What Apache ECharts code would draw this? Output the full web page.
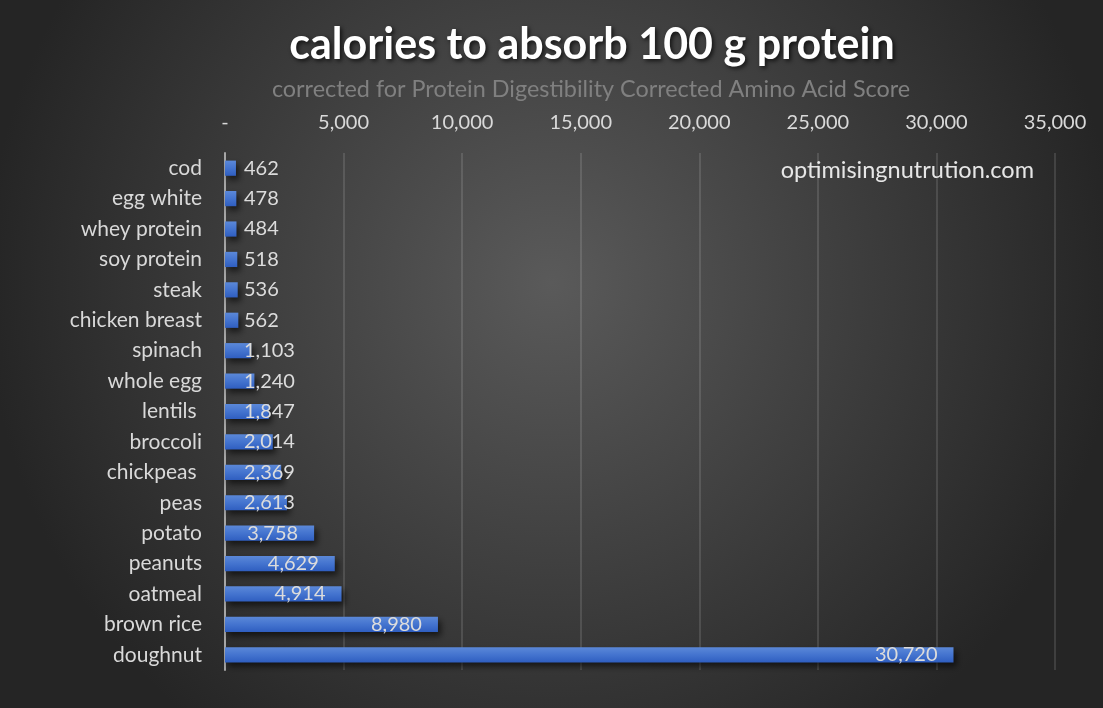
<!DOCTYPE html>
<html><head><meta charset="utf-8">
<script src="https://cdn.jsdelivr.net/npm/echarts@6/dist/echarts.min.js"></script>
<style>html,body{margin:0;padding:0;background:#333;}#c{width:1103px;height:708px;}</style>
</head><body><div id="c"></div>
<script>
const categories = ['cod','egg white','whey protein','soy protein','steak','chicken breast','spinach','whole egg','lentils ','broccoli','chickpeas ','peas','potato','peanuts','oatmeal','brown rice','doughnut'];
const values = [462,478,484,518,536,562,1103,1240,1847,2014,2369,2613,3758,4629,4914,8980,30720];
const xTicks = [0,5000,10000,15000,20000,25000,30000,35000];

const FONT = 'Lato';
const fmt = v => v === 0 ? '-' : v.toLocaleString('en-US');
const chart = echarts.init(document.getElementById('c'));
const GL = 225, GR = 48, MAX = 35000, W = 1103 - GL - GR;
const LBL = 20;

const cnv = document.createElement('canvas').getContext('2d');
cnv.font = LBL + 'px ' + FONT;

function itemData() {
  return values.map(v => {
    const end = GL + v / MAX * W;
    const tw = cnv.measureText(fmt(v)).width;
    const inside = (end - 16 - tw) >= GL + 19;
    return { value: v, label: inside ? { position: 'insideRight', distance: 16 } : { position: 'insideLeft', distance: 19 } };
  });
}

chart.setOption({
  backgroundColor: { type: 'radial', x: 0.5, y: 0.4, r: 0.8, colorStops: [{offset: 0, color: '#5a5a5a'}, {offset: 1, color: '#252525'}] },
  graphic: [
    { type: 'text', x: 592, y: 45, style: { text: 'calories to absorb 100 g protein', fill: '#ffffff', font: 'bold 43px ' + FONT, textAlign: 'center', textVerticalAlign: 'middle', textShadowColor: 'rgba(0,0,0,0.7)', textShadowBlur: 4, textShadowOffsetX: 2, textShadowOffsetY: 2 } },
    { type: 'text', x: 591, y: 89, style: { text: 'corrected for Protein Digestibility Corrected Amino Acid Score', fill: '#808080', font: '23.4px ' + FONT, textAlign: 'center', textVerticalAlign: 'middle' } },
    { type: 'text', right: 69, top: 158, style: { text: 'optimisingnutrution.com', fill: '#e6e6e6', font: '23.5px ' + FONT } }
  ],
  grid: { left: GL, right: GR, top: 153, bottom: 38 },
  xAxis: {
    type: 'value', position: 'top', min: 0, max: MAX, interval: 5000,
    axisLine: { show: false }, axisTick: { show: false },
    axisLabel: { color: '#d9d9d9', fontFamily: FONT, fontSize: 20, margin: 20, formatter: fmt },
    splitLine: { show: true, lineStyle: { color: 'rgba(255,255,255,0.12)', width: 2 } }
  },
  yAxis: {
    type: 'category', data: categories, inverse: true,
    axisLine: { show: true, lineStyle: { color: '#a6a6a6', width: 2 } },
    axisTick: { show: false },
    axisLabel: { color: '#d9d9d9', fontFamily: FONT, fontSize: 21, margin: 23 }
  },
  series: [{
    type: 'bar', data: itemData(), barCategoryGap: '50%',
    itemStyle: {
      color: { type: 'linear', x: 0, y: 0, x2: 0, y2: 1, colorStops: [{offset: 0, color: '#5b88d8'}, {offset: 0.5, color: '#4474cf'}, {offset: 1, color: '#2f5ec0'}] },
      shadowColor: 'rgba(0,0,0,0.6)', shadowBlur: 6, shadowOffsetX: 3, shadowOffsetY: 4
    },
    label: { show: true, color: '#dcdcdc', fontFamily: FONT, fontSize: LBL, formatter: p => fmt(p.value) }
  }]
});
</script></body></html>
